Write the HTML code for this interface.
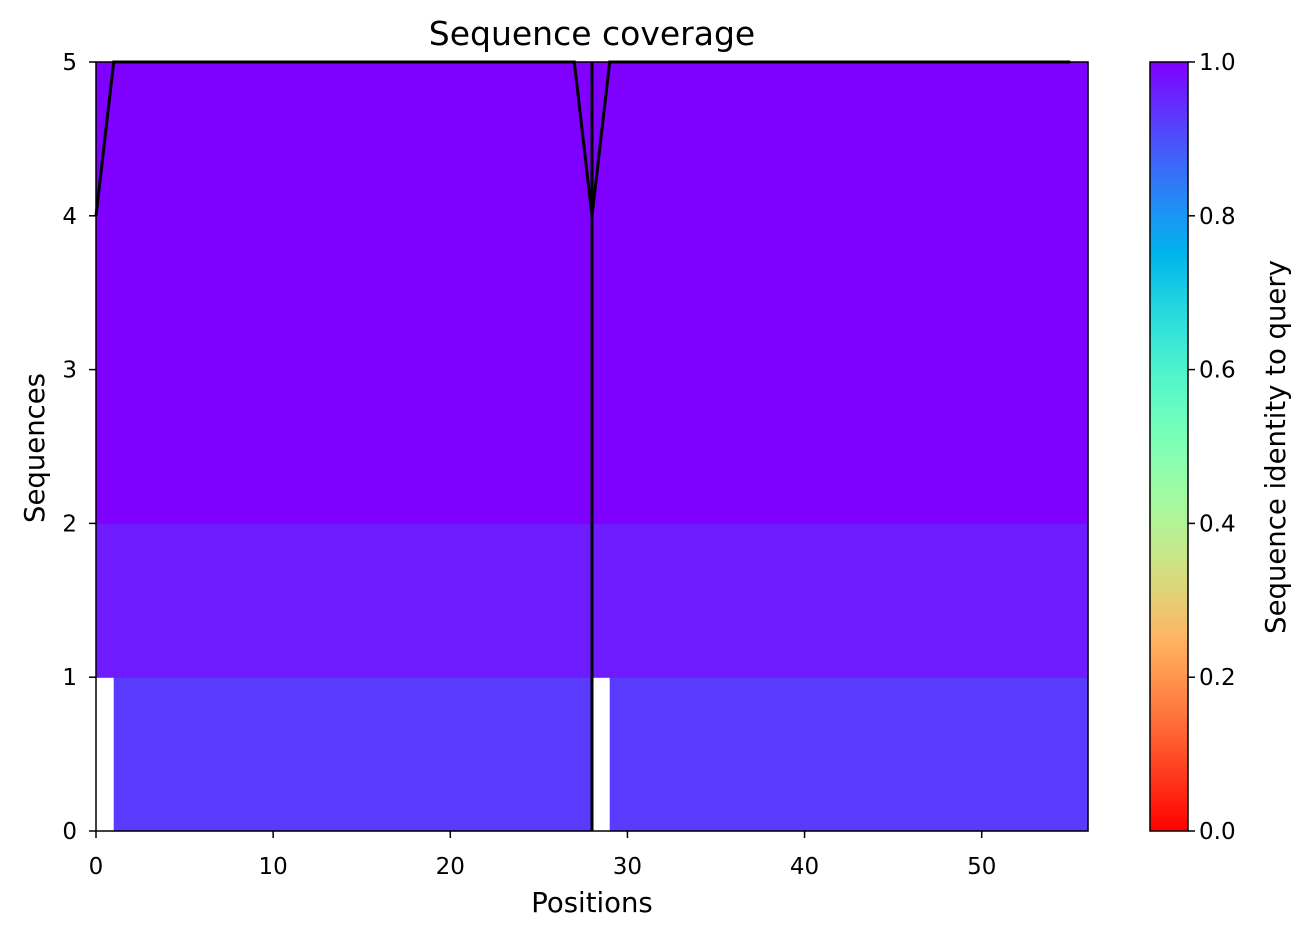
<!DOCTYPE html>
<html><head><meta charset="utf-8"><style>
html,body{margin:0;padding:0;background:#fff;}
svg{display:block;font-family:"DejaVu Sans","Liberation Sans",sans-serif;}
</style></head><body>
<svg id="chart" width="1311" height="939" viewBox="0 0 1311 939">
<defs><linearGradient id="cbgrad" x1="0" y1="1" x2="0" y2="0"></linearGradient></defs>
<text x="592" y="45" font-size="33" text-anchor="middle">Sequence coverage</text>
<g id="plot"></g>
<text x="592" y="912" font-size="27.5" text-anchor="middle">Positions</text>
<text transform="translate(44,448) rotate(-90)" font-size="27.5" text-anchor="middle">Sequences</text>
<text transform="translate(1285,447) rotate(-90)" font-size="27.5" text-anchor="middle">Sequence identity to query</text>
</svg>
<script>
// Data
const nPos = 56;
const rowIdentity = [0.926, 0.965, 1.0, 1.0, 1.0];
const rowGaps = [[0, 28], [], [], [], []];
const coverage = [4,5,5,5,5,5,5,5,5,5,5,5,5,5,5,5,5,5,5,5,5,5,5,5,5,5,5,5,4,5,5,5,5,5,5,5,5,5,5,5,5,5,5,5,5,5,5,5,5,5,5,5,5,5,5,5];
const chainBreaks = [28];
const xTicks = [0,10,20,30,40,50];
const yTicks = [0,1,2,3,4,5];
const cbTicks = [0.0,0.2,0.4,0.6,0.8,1.0];

const NS='http://www.w3.org/2000/svg';
const svg=document.getElementById('chart'), g=document.getElementById('plot');
const X0=96,X1=1088,Y0=831,Y1=62;
const xs=v=>X0+v*(X1-X0)/nPos, ys=v=>Y0-v*(Y0-Y1)/5;
function rainbowR(v){const t=1-v;const r=Math.min(1,Math.abs(2*t-0.5)),gg=Math.sin(Math.PI*t),b=Math.cos(Math.PI*t/2);
 return `rgb(${Math.round(r*255)},${Math.round(gg*255)},${Math.round(Math.max(0,b)*255)})`;}
function mk(tag,attrs,parent){const e=document.createElementNS(NS,tag);for(const k in attrs)e.setAttribute(k,attrs[k]);(parent||g).appendChild(e);return e;}

rowIdentity.forEach((v,r)=>{
 for(let p=0;p<nPos;p++){
  if(rowGaps[r].includes(p))continue;
  const c=mk('rect',{x:xs(p),y:ys(r+1),width:xs(p+1)-xs(p)+0.6,height:ys(r)-ys(r+1)+0.6,fill:rainbowR(v)});
  
  
 }
});
const pts=coverage.map((c,i)=>xs(i)+','+ys(c)).join(' ');
const line=mk('polyline',{points:pts,fill:'none',stroke:'#000','stroke-width':3});


chainBreaks.forEach(b=>{
 const l=mk('line',{x1:xs(b),x2:xs(b),y1:ys(0),y2:ys(5),stroke:'#000','stroke-width':3});
 
 
});
const frame=mk('rect',{x:X0,y:Y1,width:X1-X0,height:Y0-Y1,fill:'none',stroke:'#000','stroke-width':1.5});


xTicks.forEach(t=>{
 mk('line',{x1:xs(t),x2:xs(t),y1:Y0,y2:Y0+7,stroke:'#000','stroke-width':1.5});
 const tx=mk('text',{x:xs(t),y:Y0+43,'font-size':23,'text-anchor':'middle'});tx.textContent=t;
 
 
});
yTicks.forEach(t=>{
 mk('line',{x1:X0-7,x2:X0,y1:ys(t),y2:ys(t),stroke:'#000','stroke-width':1.5});
 const tx=mk('text',{x:X0-19,y:ys(t)+8,'font-size':23,'text-anchor':'end'});tx.textContent=t;
 
 
});
// colorbar
const grad=document.getElementById('cbgrad');
for(let i=0;i<=20;i++){const v=i/20;mk('stop',{offset:v,'stop-color':rainbowR(v)},grad);}
const CX0=1150,CX1=1188;
const cb=mk('rect',{x:CX0,y:Y1,width:CX1-CX0,height:Y0-Y1,fill:'url(#cbgrad)',stroke:'#000','stroke-width':1.5});


cbTicks.forEach(t=>{
 const y=Y0-t*(Y0-Y1);
 mk('line',{x1:CX1,x2:CX1+7,y1:y,y2:y,stroke:'#000','stroke-width':1.5});
 const tx=mk('text',{x:CX1+11,y:y+8,'font-size':23});tx.textContent=t.toFixed(1);
 
 
});
</script>
</body></html>
